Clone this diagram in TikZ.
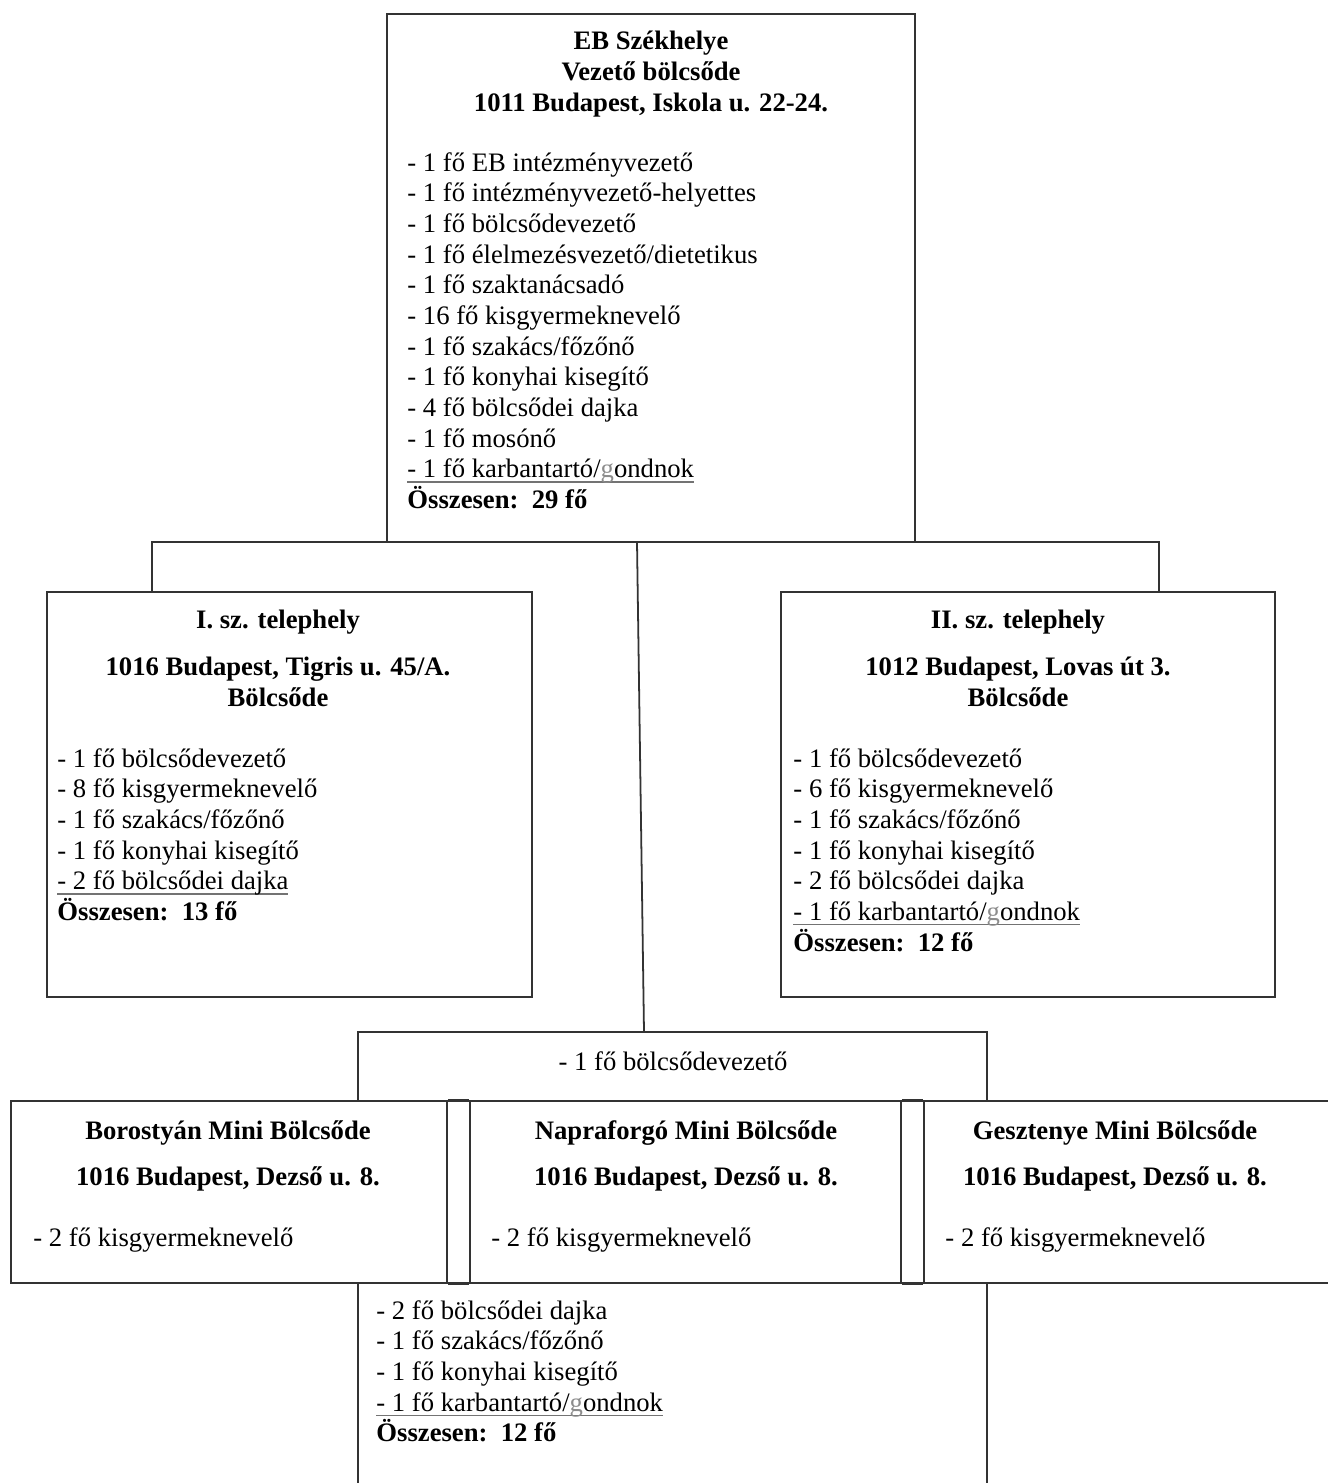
\documentclass[tikz,border=0pt]{standalone}
\usepackage{fontspec}
\setmainfont{Liberation Serif}
\usetikzlibrary{fit}

\tikzset{
  box/.style={draw=black!80, line width=0.8pt, inner sep=0pt},
  wire/.style={draw=black!80, line width=0.8pt},
  head/.style={font=\fontsize{12}{13.8}\selectfont\bfseries, align=center, inner sep=0pt, anchor=north},
  staff/.style={align=left, inner sep=0pt, anchor=north west},
}
% underlined last line of a list, as in the scan
\newcommand{\grayrule}[1]{\setbox0=\hbox{#1}\rlap{\color{black!55}\rule[-2.2pt]{\wd0}{0.6pt}}\box0}
\newcommand{\gondnok}{- 1 fő karbantartó/{\color{black!45}g}ondnok}

\begin{document}
\begin{tikzpicture}[x=0.45pt, y=-0.45pt, font=\fontsize{12}{13.8}\selectfont]
    \useasboundingbox (0,0) rectangle (1327,1483);

    % boxes
    \node[box, fit={(387,14) (915,542)}] (top) {};
    \node[box, fit={(47,592) (532,997)}] (site1) {};
    \node[box, fit={(781,592) (1275,997)}] (site2) {};
    \node[box, fit={(358,1032) (987,1101)}] (lead) {};
    \node[box, fit={(11,1101) (447,1283)}] (mini1) {};
    \node[box, fit={(470,1101) (901,1283)}] (mini2) {};
    \node[box, fit={(924,1101) (1345,1283)}] (mini3) {};
    \node[box, fit={(358,1283) (987,1500)}] (shared) {};

    % connectors
    \coordinate (j0) at (637,542);
    \coordinate (j1) at (152,542);
    \coordinate (j2) at (1159,542);
    \coordinate (j3) at (644,1032);
    \draw[wire] (j1 |- site1.north) -- (j1) -- (j2) -- (j2 |- site2.north);
    \draw[wire] (j0) -- (j3);
    \draw[wire] (mini1.north east) -- (mini2.north west) (mini1.south east) -- (mini2.south west)
                (mini2.north east) -- (mini3.north west) (mini2.south east) -- (mini3.south west);

    % main seat
    \node[head] (top-title) at (651,31) {EB Székhelye\\Vezető bölcsőde\\1011 Budapest, Iskola u. 22-24.};
    \node[staff] (top-staff) at (407,152) {- 1 fő EB intézményvezető\\- 1 fő intézményvezető-helyettes\\- 1 fő bölcsődevezető\\- 1 fő élelmezésvezető/dietetikus\\- 1 fő szaktanácsadó\\- 16 fő kisgyermeknevelő\\- 1 fő szakács/főzőnő\\- 1 fő konyhai kisegítő\\- 4 fő bölcsődei dajka\\- 1 fő mosónő\\\grayrule{\gondnok}\\\textbf{Összesen:\ \ 29 fő}};

    % site I
    \node[head] (site1-title) at (278,610) {I. sz. telephely};
    \node[head] (site1-addr) at (278,657) {1016 Budapest, Tigris u. 45/A.\\Bölcsőde};
    \node[staff] (site1-staff) at (57,748) {- 1 fő bölcsődevezető\\- 8 fő kisgyermeknevelő\\- 1 fő szakács/főzőnő\\- 1 fő konyhai kisegítő\\\grayrule{- 2 fő bölcsődei dajka}\\\textbf{Összesen:\ \ 13 fő}};

    % site II
    \node[head] (site2-title) at (1018,610) {II. sz. telephely};
    \node[head] (site2-addr) at (1018,657) {1012 Budapest, Lovas út 3.\\Bölcsőde};
    \node[staff] (site2-staff) at (793,748) {- 1 fő bölcsődevezető\\- 6 fő kisgyermeknevelő\\- 1 fő szakács/főzőnő\\- 1 fő konyhai kisegítő\\- 2 fő bölcsődei dajka\\\grayrule{\gondnok}\\\textbf{Összesen:\ \ 12 fő}};

    % mini nurseries
    \node[inner sep=0pt] (lead-text) at (673,1061) {- 1 fő bölcsődevezető};
    \node[head] (mini1-title) at (228,1120) {Borostyán Mini Bölcsőde};
    \node[head] (mini1-addr) at (228,1166) {1016 Budapest, Dezső u. 8.};
    \node[staff] (mini1-staff) at (33,1227) {- 2 fő kisgyermeknevelő};
    \node[head] (mini2-title) at (686,1120) {Napraforgó Mini Bölcsőde};
    \node[head] (mini2-addr) at (686,1166) {1016 Budapest, Dezső u. 8.};
    \node[staff] (mini2-staff) at (491,1227) {- 2 fő kisgyermeknevelő};
    \node[head] (mini3-title) at (1115,1120) {Gesztenye Mini Bölcsőde};
    \node[head] (mini3-addr) at (1115,1166) {1016 Budapest, Dezső u. 8.};
    \node[staff] (mini3-staff) at (945,1227) {- 2 fő kisgyermeknevelő};
    \node[staff] (shared-staff) at (376,1300) {- 2 fő bölcsődei dajka\\- 1 fő szakács/főzőnő\\- 1 fő konyhai kisegítő\\\grayrule{\gondnok}\\\textbf{Összesen:\ \ 12 fő}};
\end{tikzpicture}
\end{document}
